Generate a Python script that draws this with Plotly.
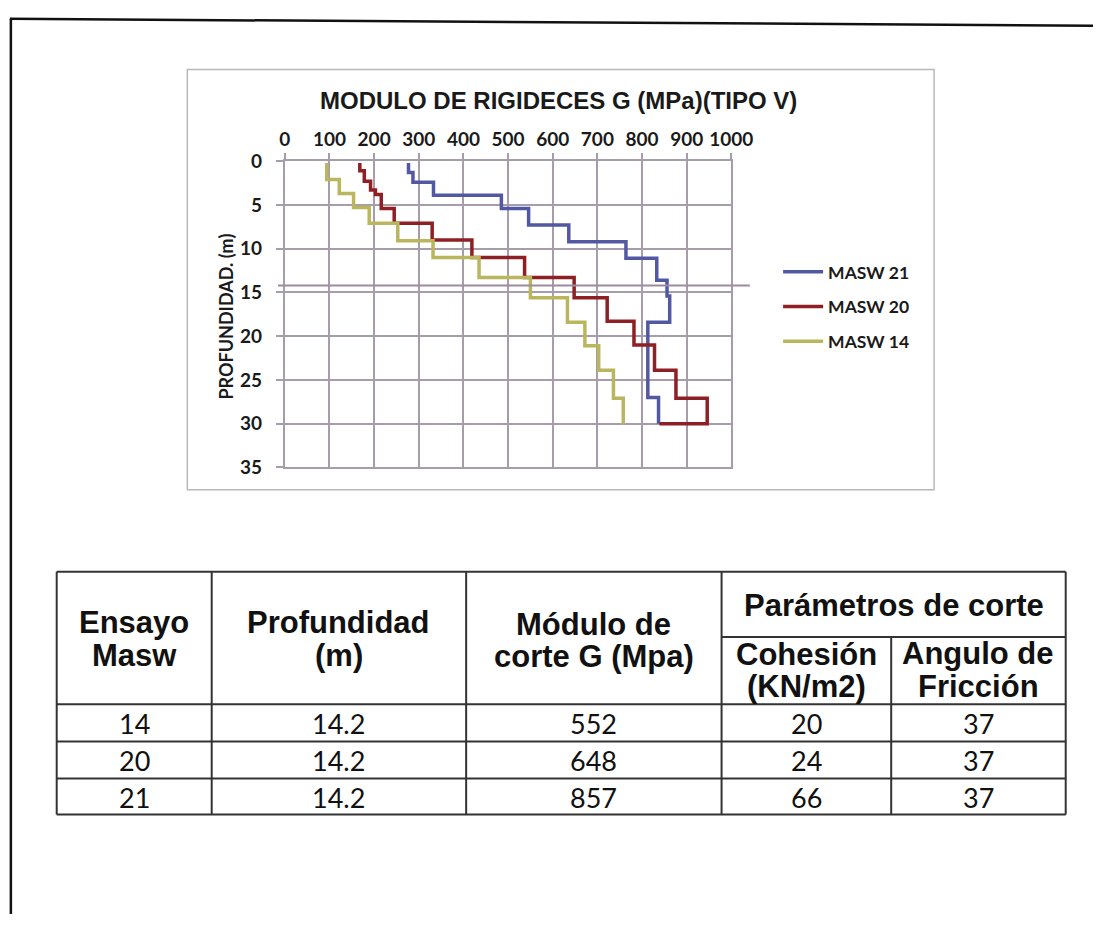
import plotly.graph_objects as go

W, H = 1115, 925

# ---------------- data ----------------
# step profiles: G value per layer, depth boundaries (n+1)
masw21_G = [277, 287, 333, 485, 546, 636, 764, 833, 856, 862, 813, 837]
masw21_depth = [0.2, 1.3, 2.4, 3.9, 5.4, 7.3, 9.2, 11.1, 13.6, 15.4, 18.4, 27.0, 30.0]

masw20_G = [168, 178, 192, 203, 216, 245, 330, 419, 537, 648, 722, 782, 828, 876, 946]
masw20_depth = [0.2, 1.1, 2.3, 3.3, 3.8, 5.4, 7.1, 9.0, 11.0, 13.3, 15.6, 18.3, 21.0, 23.9, 27.1, 30.0]
masw20_tail_G = 839

masw14_G = [94, 122, 154, 189, 253, 332, 435, 550, 633, 672, 703, 736, 758]
masw14_depth = [0.2, 2.1, 3.7, 5.3, 7.1, 9.1, 11.0, 13.3, 15.6, 18.4, 21.1, 23.9, 27.1, 30.1]

ref_depth = 14.2

x_ticks = [0, 100, 200, 300, 400, 500, 600, 700, 800, 900, 1000]
y_ticks = [0, 5, 10, 15, 20, 25, 30, 35]

table_header_cols = ["Ensayo Masw", "Profundidad (m)", "Módulo de corte G (Mpa)",
                     "Cohesión (KN/m2)", "Angulo de Fricción"]
tbl_ensayo = ["14", "20", "21"]
tbl_prof = ["14.2", "14.2", "14.2"]
tbl_modulo = ["552", "648", "857"]
tbl_cohesion = ["20", "24", "66"]
tbl_friccion = ["37", "37", "37"]

# ---------------- helpers ----------------
def px(x):
    return x / W

def py(y):
    return 1 - y / H

def steps(G, depth):
    xs, ys = [], []
    for i, g in enumerate(G):
        xs += [g, g]
        ys += [depth[i], depth[i + 1]]
    return xs, ys

GRID = "#a79ca9"
C21 = "#5358a3"
C20 = "#8e1f24"
C14 = "#b9b65e"

fig = go.Figure()

x21, y21 = steps(masw21_G, masw21_depth)
x20, y20 = steps(masw20_G, masw20_depth)
x20 += [masw20_tail_G]
y20 += [masw20_depth[-1]]
x14, y14 = steps(masw14_G, masw14_depth)

fig.add_trace(go.Scatter(x=x21, y=y21, mode="lines", name="MASW 21",
                         line=dict(color=C21, width=3.5), legendgroup="a"))
fig.add_trace(go.Scatter(x=x20, y=y20, mode="lines", name="MASW 20",
                         line=dict(color=C20, width=3.5), legendgroup="b"))
fig.add_trace(go.Scatter(x=x14, y=y14, mode="lines", name="MASW 14",
                         line=dict(color=C14, width=3.5), legendgroup="c"))

shapes = []
annotations = []

# page border (scanned frame)
shapes.append(dict(type="line", xref="paper", yref="paper", x0=px(4), y0=py(7), x1=px(1115), y1=py(14),
                   line=dict(color="#111111", width=2.5)))
shapes.append(dict(type="line", xref="paper", yref="paper", x0=px(5), y0=py(7), x1=px(5), y1=py(925),
                   line=dict(color="#111111", width=2.5)))

# chart frame
shapes.append(dict(type="rect", xref="paper", yref="paper", x0=px(186), y0=py(59), x1=px(952), y1=py(490),
                   line=dict(color="#b8b8b8", width=1.5)))

# reference depth line
shapes.append(dict(type="line", xref="paper", yref="y", x0=px(279), x1=px(763), y0=ref_depth, y1=ref_depth,
                   line=dict(color="#9c8a9e", width=2)))

# chart title & axis title
annotations.append(dict(text="<b>MODULO DE RIGIDECES G (MPa)(TIPO V)</b>", xref="paper", yref="paper",
                        x=px(567), y=py(91), showarrow=False, xanchor="center", yanchor="middle",
                        font=dict(family="Liberation Sans, Arial", size=24, color="#1a1a1a")))
annotations.append(dict(text="<b>PROFUNDIDAD. (m)</b>", xref="paper", yref="paper",
                        x=px(226), y=py(312), showarrow=False, textangle=-90, xanchor="center", yanchor="middle",
                        font=dict(family="Lato", size=18, color="#1a1a1a")))

# ---------------- table ----------------
TC = "#333333"
cols = [52, 211, 472, 734, 908, 1087]
rows = [574, 710, 748, 786, 823]
sub_y = 641
for r in rows:
    shapes.append(dict(type="line", xref="paper", yref="paper", x0=px(cols[0]), x1=px(cols[-1]),
                       y0=py(r), y1=py(r), line=dict(color=TC, width=2)))
shapes.append(dict(type="line", xref="paper", yref="paper", x0=px(cols[3]), x1=px(cols[-1]),
                   y0=py(sub_y), y1=py(sub_y), line=dict(color=TC, width=2)))
for i, c in enumerate(cols):
    top = sub_y if i == 4 else rows[0]
    shapes.append(dict(type="line", xref="paper", yref="paper", x0=px(c), x1=px(c),
                       y0=py(top), y1=py(rows[-1]), line=dict(color=TC, width=2)))

HF = dict(family="Liberation Sans, Arial", size=31, color="#111111")
BF = dict(family="Lato", size=27, color="#111111")

def txt(s, x, y, font):
    annotations.append(dict(text=s, xref="paper", yref="paper", x=px(x), y=py(y), showarrow=False,
                            xanchor="center", yanchor="middle", font=font))

centers = [(cols[i] + cols[i + 1]) / 2 for i in range(5)]
header_lines = [
    (table_header_cols[0].split(" ", 1), 626, 660),
    (table_header_cols[1].split(" ", 1), 626, 660),
    (["Módulo de", "corte G (Mpa)"], 628, 661),
    (table_header_cols[3].split(" ", 1), 659, 692),
    (["Angulo de", "Fricción"], 658, 692),
]
for ci, (lines, y1, y2) in enumerate(header_lines):
    txt("<b>%s</b>" % lines[0], centers[ci], y1, HF)
    txt("<b>%s</b>" % lines[1], centers[ci], y2, HF)
txt("<b>Parámetros de corte</b>", (cols[3] + cols[5]) / 2, 609, HF)

row_centers = [(rows[i] + rows[i + 1]) / 2 for i in range(1, 4)]
for ri in range(3):
    vals = [tbl_ensayo[ri], tbl_prof[ri], tbl_modulo[ri], tbl_cohesion[ri], tbl_friccion[ri]]
    for ci, v in enumerate(vals):
        txt(v, centers[ci], row_centers[ri] + 1, BF)

fig.update_layout(
    width=W, height=H,
    margin=dict(l=0, r=0, t=0, b=0),
    paper_bgcolor="white", plot_bgcolor="white",
    showlegend=True,
    legend=dict(x=px(792), y=py(248), xanchor="left", yanchor="top",
                font=dict(family="Lato", size=17.5, color="#1a1a1a", weight="bold"),
                tracegroupgap=9, bgcolor="rgba(0,0,0,0)", itemwidth=40),
    shapes=shapes, annotations=annotations,
    xaxis=dict(domain=[px(286), px(744)], range=[0, 1000], side="top", tickvals=x_ticks,
               ticktext=[str(v) for v in x_ticks],
               showgrid=True, gridcolor=GRID, gridwidth=2, zeroline=False,
               showline=True, linecolor=GRID, linewidth=2, mirror=True,
               ticks="outside", ticklen=6, tickcolor=GRID, tickwidth=2,
               tickfont=dict(family="Lato", size=19, color="#1a1a1a", weight="bold"),
               fixedrange=True),
    yaxis=dict(domain=[py(467), py(153)], range=[35, 0], tickvals=y_ticks,
               ticktext=[str(v) for v in y_ticks],
               showgrid=True, gridcolor=GRID, gridwidth=2, zeroline=False,
               showline=True, linecolor=GRID, linewidth=2, mirror=True,
               ticks="outside", ticklen=7, tickcolor=GRID, tickwidth=2, ticklabelstandoff=10,
               tickfont=dict(family="Lato", size=19, color="#1a1a1a", weight="bold"),
               fixedrange=True),
)

fig.write_html("out.html")
